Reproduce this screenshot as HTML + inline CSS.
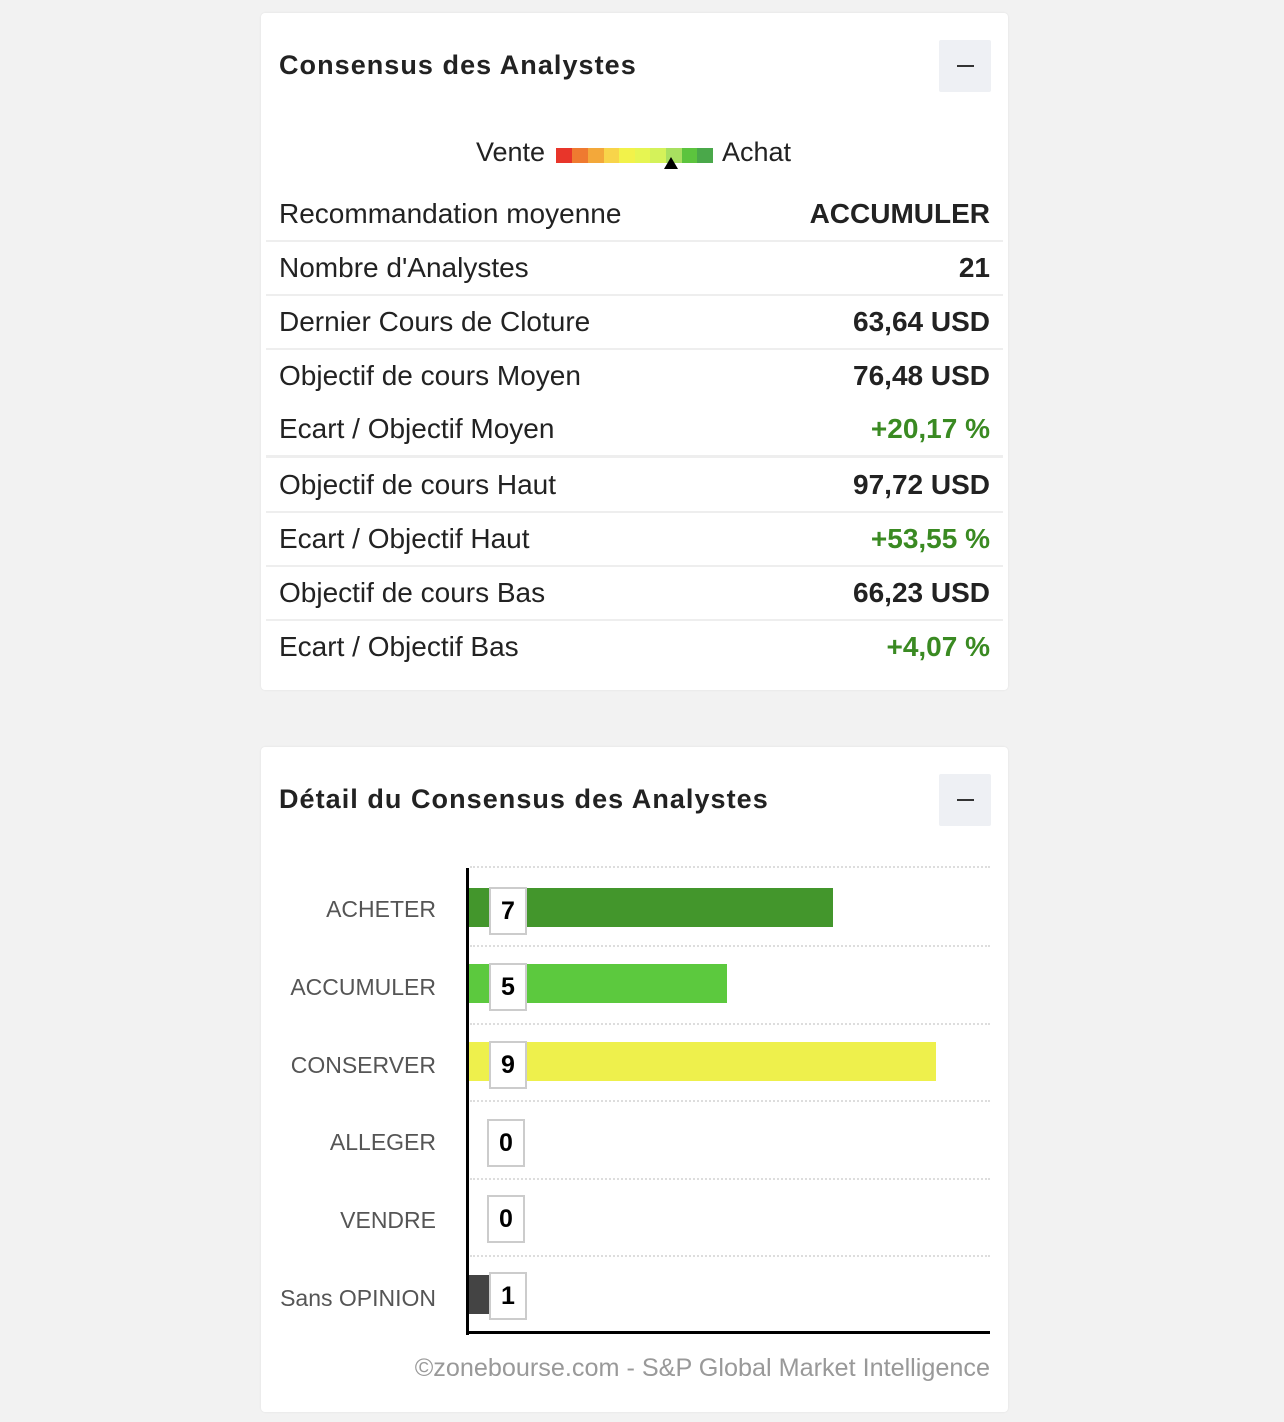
<!DOCTYPE html>
<html><head><meta charset="utf-8"><style>
body{margin:0;width:1284px;height:1422px;background:#f2f2f2;font-family:"Liberation Sans",Arial,sans-serif;position:relative;overflow:hidden}
.card{position:absolute;left:261px;width:747px;background:#fff;border-radius:4px;box-shadow:0 0 2px rgba(0,0,0,.08)}
.title{position:absolute;left:18px;font-weight:bold;font-size:27px;color:#222;letter-spacing:1.05px}
.btn{position:absolute;left:678px;width:52px;height:52px;background:#eef0f4;border-radius:2px}
.btn:after{content:"";position:absolute;left:18px;top:25px;width:17px;height:2px;background:#333}
.row{position:absolute;left:5px;width:737px;height:54px;font-size:28px;color:#222}
.row .l{position:absolute;left:13px;top:11px}
.row .r{position:absolute;right:13px;top:11px;font-weight:bold}
.sep{position:absolute;left:5px;width:737px;height:2px;background:#eee}
.g{color:#3a8a22}
.seg{position:absolute;top:148px;height:15px;width:16px}
.lab{position:absolute;right:848px;font-size:23px;color:#555;text-align:right}
.grid{position:absolute;left:470px;width:520px;border-top:2px dotted #ddd}
.bar{position:absolute;left:469px;height:39px}
.vb{position:absolute;width:34px;height:44px;background:#fff;border:2px solid #ccc;font-weight:bold;font-size:25px;text-align:center;line-height:44px;color:#000}
</style></head><body>
<div class="card" style="top:13px;height:677px">
<div class="title" style="top:37px">Consensus des Analystes</div>
<div class="btn" style="top:27px"></div>
</div>
<div style="position:absolute;left:476px;top:137px;font-size:27px;color:#222">Vente</div>
<div style="position:absolute;left:722px;top:137px;font-size:27px;color:#222">Achat</div>
<div class="seg" style="left:556px;background:#e8352a"></div>
<div class="seg" style="left:572px;background:#ef7a30"></div>
<div class="seg" style="left:588px;background:#f3a83a"></div>
<div class="seg" style="left:604px;background:#f8d44a"></div>
<div class="seg" style="left:619px;background:#f2f24a"></div>
<div class="seg" style="left:635px;background:#e6f552"></div>
<div class="seg" style="left:650px;background:#d4f25a"></div>
<div class="seg" style="left:666px;background:#a8e060"></div>
<div class="seg" style="left:682px;background:#5cc43e"></div>
<div class="seg" style="left:697px;width:16px;background:#4aa84a"></div>
<div style="position:absolute;left:664px;top:157px;width:0;height:0;border-left:7px solid transparent;border-right:7px solid transparent;border-bottom:12px solid #000"></div>

<div style="position:absolute;left:261px;top:0">
<div class="row" style="top:187px"><span class="l">Recommandation moyenne</span><span class="r">ACCUMULER</span></div>
<div class="sep" style="top:240px"></div>
<div class="row" style="top:241px"><span class="l">Nombre d'Analystes</span><span class="r">21</span></div>
<div class="sep" style="top:294px"></div>
<div class="row" style="top:295px"><span class="l">Dernier Cours de Cloture</span><span class="r">63,64 USD</span></div>
<div class="sep" style="top:348px"></div>
<div class="row" style="top:349px"><span class="l">Objectif de cours Moyen</span><span class="r">76,48 USD</span></div>
<div class="row" style="top:402px"><span class="l">Ecart / Objectif Moyen</span><span class="r g">+20,17 %</span></div>
<div class="sep" style="top:455px;height:3px"></div>
<div class="row" style="top:458px"><span class="l">Objectif de cours Haut</span><span class="r">97,72 USD</span></div>
<div class="sep" style="top:511px"></div>
<div class="row" style="top:512px"><span class="l">Ecart / Objectif Haut</span><span class="r g">+53,55 %</span></div>
<div class="sep" style="top:565px"></div>
<div class="row" style="top:566px"><span class="l">Objectif de cours Bas</span><span class="r">66,23 USD</span></div>
<div class="sep" style="top:619px"></div>
<div class="row" style="top:620px"><span class="l">Ecart / Objectif Bas</span><span class="r g">+4,07 %</span></div>
</div>

<div class="card" style="top:747px;height:665px">
<div class="title" style="top:37px">Détail du Consensus des Analystes</div>
<div class="btn" style="top:27px"></div>
</div>
<div class="grid" style="top:866px"></div>
<div class="grid" style="top:945px"></div>
<div class="grid" style="top:1023px"></div>
<div class="grid" style="top:1100px"></div>
<div class="grid" style="top:1178px"></div>
<div class="grid" style="top:1255px"></div>
<div class="lab" style="top:896px">ACHETER</div>
<div class="lab" style="top:974px">ACCUMULER</div>
<div class="lab" style="top:1052px">CONSERVER</div>
<div class="lab" style="top:1129px">ALLEGER</div>
<div class="lab" style="top:1207px">VENDRE</div>
<div class="lab" style="top:1285px">Sans OPINION</div>
<div class="bar" style="top:888px;width:364px;background:#43962c"></div>
<div class="bar" style="top:964px;width:258px;background:#5cc93e"></div>
<div class="bar" style="top:1042px;width:467px;background:#eef04c"></div>
<div class="bar" style="top:1275px;width:20px;background:#444"></div>
<div style="position:absolute;left:466px;top:868px;width:3px;height:467px;background:#000"></div>
<div style="position:absolute;left:466px;top:1331px;width:524px;height:3px;background:#000"></div>
<div class="vb" style="left:489px;top:887px">7</div>
<div class="vb" style="left:489px;top:963px">5</div>
<div class="vb" style="left:489px;top:1041px">9</div>
<div class="vb" style="left:487px;top:1119px">0</div>
<div class="vb" style="left:487px;top:1195px">0</div>
<div class="vb" style="left:489px;top:1272px">1</div>
<div style="position:absolute;right:294px;top:1354px;font-size:25.2px;color:#999">©zonebourse.com - S&amp;P Global Market Intelligence</div>
</body></html>
